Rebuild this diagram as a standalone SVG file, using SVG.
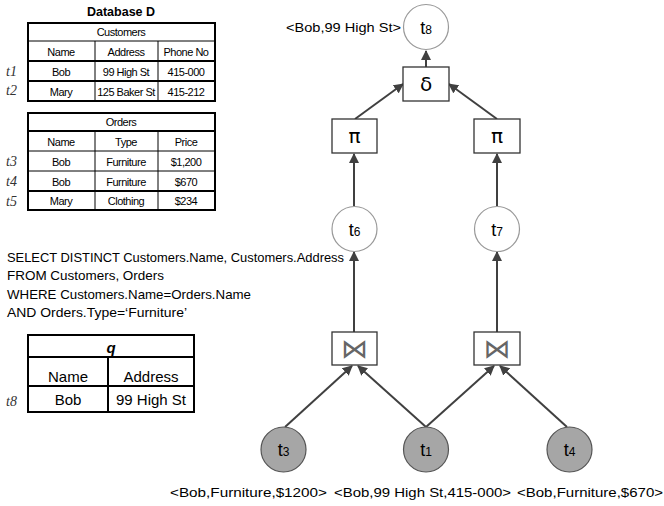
<svg xmlns="http://www.w3.org/2000/svg" width="664" height="506" viewBox="0 0 664 506">
<defs>
<marker id="ah" markerWidth="10" markerHeight="10" refX="9" refY="5" orient="auto" markerUnits="userSpaceOnUse">
<path d="M0,0 L10,5 L0,10 z" fill="#404040"/>
</marker>
<style>
.tb{font-family:"Liberation Sans",Arial,sans-serif;font-size:11px;letter-spacing:-0.5px;text-anchor:middle;fill:#000}
.tl{font-family:"Liberation Serif","DejaVu Serif",serif;font-style:italic;font-size:14px;fill:#333}
.gl{stroke:#000;stroke-width:1;fill:none}
.gt{stroke:#000;stroke-width:2;fill:none}
.sql{font-family:"Liberation Sans",Arial,sans-serif;font-size:13px;fill:#000}
.q{font-family:"Liberation Sans",Arial,sans-serif;font-size:15px;text-anchor:middle;fill:#000}
.lbl{font-family:"Liberation Sans",Arial,sans-serif;font-size:13.5px;fill:#000}
.cw{fill:#fff;stroke:#999;stroke-width:1.2}
.cg{fill:#a6a6a6;stroke:#555;stroke-width:1.2}
.bx{fill:#fff;stroke:#333;stroke-width:1.3}
.nt{font-family:"Liberation Sans",Arial,sans-serif;font-size:18px;text-anchor:middle;fill:#000}
.op{font-family:"DejaVu Sans","Liberation Sans",sans-serif;font-size:20px;text-anchor:middle;fill:#000}
.jn{font-family:"DejaVu Sans",sans-serif;font-size:27px;text-anchor:middle;fill:#666}
.ed{stroke:#404040;stroke-width:2;fill:none;marker-end:url(#ah)}
</style>
</defs>

<g id="database">
<text x="121" y="16" font-family="Liberation Sans,Arial,sans-serif" font-size="12.5" font-weight="bold" text-anchor="middle">Database D</text>
</g>

<g id="customers">
<rect x="28" y="23" width="187" height="78" class="gt" stroke-width="1.5"/>
<line x1="28" y1="41" x2="215" y2="41" class="gl"/>
<line x1="28" y1="61" x2="215" y2="61" class="gt"/>
<line x1="28" y1="81" x2="215" y2="81" class="gt"/>
<line x1="95" y1="41" x2="95" y2="101" class="gl"/>
<line x1="158" y1="41" x2="158" y2="101" class="gl"/>
<text x="121" y="36" class="tb">Customers</text>
<text x="61" y="56" class="tb">Name</text>
<text x="126" y="56" class="tb">Address</text>
<text x="186" y="56" class="tb">Phone No</text>
<text x="61" y="76" class="tb">Bob</text>
<text x="126" y="76" class="tb">99 High St</text>
<text x="186" y="76" class="tb">415-000</text>
<text x="61" y="96" class="tb">Mary</text>
<text x="126" y="96" class="tb">125 Baker St</text>
<text x="186" y="96" class="tb">415-212</text>
<text x="6" y="76" class="tl">t1</text>
<text x="6" y="95" class="tl">t2</text>
</g>

<g id="orders">
<rect x="28" y="113" width="187" height="97" class="gt" stroke-width="1.5"/>
<line x1="28" y1="131" x2="215" y2="131" class="gt"/>
<line x1="28" y1="151" x2="215" y2="151" class="gl"/>
<line x1="28" y1="171" x2="215" y2="171" class="gl"/>
<line x1="28" y1="191" x2="215" y2="191" class="gt"/>
<line x1="95" y1="131" x2="95" y2="210" class="gl"/>
<line x1="158" y1="131" x2="158" y2="210" class="gl"/>
<text x="121" y="126" class="tb">Orders</text>
<text x="61" y="146" class="tb">Name</text>
<text x="126" y="146" class="tb">Type</text>
<text x="186" y="146" class="tb">Price</text>
<text x="61" y="166" class="tb">Bob</text>
<text x="126" y="166" class="tb">Furniture</text>
<text x="186" y="166" class="tb">$1,200</text>
<text x="61" y="186" class="tb">Bob</text>
<text x="126" y="186" class="tb">Furniture</text>
<text x="186" y="186" class="tb">$670</text>
<text x="61" y="205" class="tb">Mary</text>
<text x="126" y="205" class="tb">Clothing</text>
<text x="186" y="205" class="tb">$234</text>
<text x="6" y="166" class="tl">t3</text>
<text x="6" y="186" class="tl">t4</text>
<text x="6" y="206" class="tl">t5</text>
</g>

<g id="sql">
<text x="7" y="262" class="sql" textLength="337" lengthAdjust="spacingAndGlyphs">SELECT DISTINCT Customers.Name, Customers.Address</text>
<text x="7" y="280" class="sql" textLength="157" lengthAdjust="spacingAndGlyphs">FROM Customers, Orders</text>
<text x="7" y="299" class="sql" textLength="244" lengthAdjust="spacingAndGlyphs">WHERE Customers.Name=Orders.Name</text>
<text x="7" y="317" class="sql" textLength="180" lengthAdjust="spacingAndGlyphs">AND Orders.Type=‘Furniture’</text>
</g>

<g id="qtable">
<rect x="28" y="335" width="166" height="77" class="gt"/>
<line x1="28" y1="357" x2="194" y2="357" class="gt"/>
<line x1="28" y1="386" x2="194" y2="386" class="gt"/>
<line x1="108" y1="357" x2="108" y2="412" class="gt"/>
<text x="111" y="353" class="q" font-weight="bold" font-style="italic">q</text>
<text x="68" y="382" class="q">Name</text>
<text x="151" y="382" class="q">Address</text>
<text x="68" y="405" class="q">Bob</text>
<text x="151" y="405" class="q">99 High St</text>
<text x="6" y="406" class="tl">t8</text>
</g>

<g id="connectors">
<line x1="426" y1="67" x2="426" y2="51" class="ed"/>
<line x1="355" y1="119" x2="403" y2="84" class="ed"/>
<line x1="497" y1="119" x2="449" y2="84" class="ed"/>
<line x1="354" y1="206" x2="354" y2="154" class="ed"/>
<line x1="497" y1="206" x2="497" y2="154" class="ed"/>
<line x1="354" y1="332" x2="354" y2="252" class="ed"/>
<line x1="497" y1="332" x2="497" y2="252" class="ed"/>
<line x1="285" y1="427" x2="352" y2="366" class="ed"/>
<line x1="426" y1="427" x2="358" y2="366" class="ed"/>
<line x1="426" y1="427" x2="494" y2="366" class="ed"/>
<line x1="567" y1="427" x2="500" y2="366" class="ed"/>
</g>

<g id="t8">
<circle cx="426" cy="27" r="22.5" class="cw"/>
<text x="426" y="34" class="nt">t<tspan font-size="12">8</tspan></text>
<text x="286" y="32" class="lbl" textLength="115" lengthAdjust="spacingAndGlyphs">&lt;Bob,99 High St&gt;</text>
</g>
<g id="delta">
<rect x="403" y="67" width="46" height="34" class="bx"/>
<text x="426" y="91" class="op">δ</text>
</g>
<g id="pi1">
<rect x="332" y="119" width="45" height="34" class="bx"/>
<text x="354.5" y="143" class="op">π</text>
</g>
<g id="pi2">
<rect x="474" y="119" width="46" height="34" class="bx"/>
<text x="497" y="143" class="op">π</text>
</g>
<g id="t6">
<circle cx="354.5" cy="229" r="22.5" class="cw"/>
<text x="354.5" y="236" class="nt">t<tspan font-size="12">6</tspan></text>
</g>
<g id="t7">
<circle cx="497" cy="229" r="22.5" class="cw"/>
<text x="497" y="236" class="nt">t<tspan font-size="12">7</tspan></text>
</g>
<g id="join1">
<rect x="332" y="332" width="45" height="33" class="bx"/>
<text x="354.5" y="358" class="jn">⋈</text>
</g>
<g id="join2">
<rect x="474" y="332" width="46" height="33" class="bx"/>
<text x="497" y="358" class="jn">⋈</text>
</g>
<g id="t3">
<circle cx="283.5" cy="449.5" r="22.5" class="cg"/>
<text x="283.5" y="456" class="nt">t<tspan font-size="12">3</tspan></text>
</g>
<g id="t1">
<circle cx="426" cy="449.5" r="22.5" class="cg"/>
<text x="426" y="456" class="nt">t<tspan font-size="12">1</tspan></text>
</g>
<g id="t4">
<circle cx="569.5" cy="449.5" r="22.5" class="cg"/>
<text x="569.5" y="456" class="nt">t<tspan font-size="12">4</tspan></text>
</g>
<g id="labels">
<text x="170" y="497" class="lbl" textLength="157" lengthAdjust="spacingAndGlyphs">&lt;Bob,Furniture,$1200&gt;</text>
<text x="334" y="497" class="lbl" textLength="177" lengthAdjust="spacingAndGlyphs">&lt;Bob,99 High St,415-000&gt;</text>
<text x="517" y="497" class="lbl" textLength="146" lengthAdjust="spacingAndGlyphs">&lt;Bob,Furniture,$670&gt;</text>
</g>
</svg>
